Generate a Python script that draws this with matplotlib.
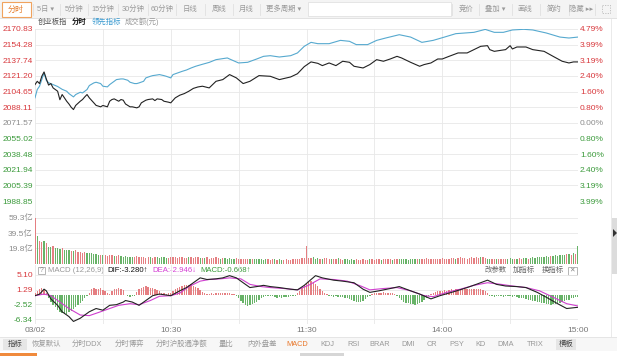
import numpy as np
import matplotlib
matplotlib.use("Agg")
import matplotlib.pyplot as plt
from matplotlib.patches import Rectangle, Polygon

plt.rcParams['font.family'] = ['Liberation Sans', 'Noto Sans CJK SC', 'DejaVu Sans']

# ---------------- data (minutes after 9:30, trading time) ----------------
prev_close = 2071.57
price_ticks = [2170.83, 2154.28, 2137.74, 2121.20, 2104.65, 2088.11,
               2071.57, 2055.02, 2038.48, 2021.94, 2005.39, 1988.85]
pct_labels = ['4.79%', '3.99%', '3.19%', '2.40%', '1.60%', '0.80%',
              '0.00%', '0.80%', '1.60%', '2.40%', '3.19%', '3.99%']

# 创业板指 分时
idx_t = [0, 1, 2, 3, 4, 5, 6, 7, 8, 10, 11, 12, 13, 14, 15, 16, 17, 18, 20,
         21, 22, 23, 24, 26, 27, 29, 30, 32, 33, 34, 35, 37, 38, 39, 40, 42,
         43, 45, 46, 47, 49, 50, 52, 53, 54, 56, 57, 59, 60, 62, 64, 66, 68,
         70, 72, 74, 77, 80, 83, 86, 89, 92, 95, 99, 104, 108, 113, 116, 119,
         122, 125, 127, 130, 133, 136, 139, 141, 145, 148, 151, 154, 157, 160,
         162, 166, 170, 172, 175, 178, 180, 183, 187, 191, 194, 197, 200, 201,
         203, 206, 208, 210, 211, 213, 217, 220, 225, 229, 233, 236, 238, 240]
idx_p = [2112.0, 2115.5, 2113.1, 2120.8, 2125.4, 2118.0, 2111.5, 2113.1,
         2108.5, 2105.0, 2096.0, 2101.5, 2098.0, 2094.4, 2091.5, 2088.0,
         2085.6, 2090.0, 2094.4, 2096.2, 2099.0, 2101.5, 2098.0, 2092.7,
         2090.0, 2088.5, 2089.9, 2088.5, 2094.4, 2096.2, 2096.9, 2094.4,
         2096.2, 2095.5, 2091.5, 2088.5, 2088.5, 2087.4, 2088.5, 2092.7,
         2095.5, 2096.2, 2096.9, 2095.1, 2096.9, 2096.2, 2094.4, 2093.4,
         2092.7, 2098.0, 2100.8, 2102.5, 2105.0, 2108.0, 2109.5, 2110.3,
         2108.5, 2115.5, 2117.3, 2122.6, 2119.1, 2113.1, 2115.5, 2121.5,
         2120.8, 2117.3, 2120.1, 2123.5, 2131.0, 2136.0, 2134.5, 2132.1,
         2134.9, 2132.1, 2136.7, 2135.6, 2131.4, 2129.6, 2133.2, 2138.4,
         2136.7, 2139.1, 2141.9, 2140.2, 2135.6, 2131.4, 2133.2, 2134.9,
         2139.1, 2139.1, 2141.9, 2145.5, 2145.5, 2149.0, 2152.5, 2153.2,
         2149.0, 2147.2, 2148.3, 2149.0, 2153.2, 2149.7, 2151.8, 2151.8,
         2149.0, 2147.2, 2141.9, 2136.7, 2134.9, 2136.0, 2136.0]

# 领先指标
lead_t = [0, 1, 2, 3, 4, 5, 6, 8, 10, 12, 14, 15, 17, 18, 20, 21, 23, 24, 26,
          27, 29, 30, 32, 33, 35, 36, 38, 39, 41, 42, 44, 45, 46, 48, 49, 51,
          52, 54, 55, 57, 58, 60, 61, 63, 65, 67, 69, 71, 74, 77, 80, 85, 86,
          90, 94, 98, 101, 104, 108, 113, 116, 119, 122, 125, 130, 135, 139,
          142, 147, 151, 155, 161, 166, 171, 176, 181, 186, 194, 199, 203, 207,
          211, 216, 220, 226, 232, 236, 240]
lead_p = [2098.0, 2106.8, 2110.3, 2117.3, 2124.3, 2116.5, 2114.0, 2112.0,
          2110.0, 2107.0, 2105.0, 2102.5, 2099.0, 2101.5, 2103.9, 2103.2,
          2106.8, 2111.0, 2113.8, 2114.5, 2113.1, 2110.3, 2109.6, 2112.0,
          2115.5, 2117.3, 2118.0, 2118.0, 2116.6, 2114.5, 2113.1, 2113.1,
          2113.8, 2115.5, 2119.1, 2120.8, 2121.5, 2122.2, 2122.6, 2121.5,
          2120.8, 2119.1, 2122.6, 2124.3, 2126.0, 2127.5, 2129.6, 2131.4,
          2133.5, 2135.5, 2138.4, 2140.2, 2139.1, 2134.9, 2135.6, 2139.1,
          2141.9, 2142.6, 2141.2, 2142.6, 2145.5, 2152.5, 2156.7, 2155.3,
          2155.3, 2158.8, 2157.8, 2154.3, 2154.3, 2158.8, 2161.3, 2164.8,
          2162.3, 2156.7, 2158.8, 2162.3, 2165.9, 2167.3, 2170.4, 2167.3,
          2167.3, 2169.8, 2170.5, 2169.8, 2166.6, 2162.3, 2161.3, 2162.3]

# 成交额 (亿元) per minute, r = up, g = down
volume = [59.0, 36.0, 29.5, 28.0, 29.0, 27.0, 22.0, 21.5, 22.5, 20.5,
          21.0, 19.5, 20.0, 18.0, 17.5, 18.5, 17.0, 16.5, 17.5, 15.5,
          15.0, 14.5, 15.5, 14.0, 13.5, 14.5, 13.0, 12.5, 11.5, 12.0,
          11.0, 11.5, 10.5, 11.0, 12.0, 10.5, 10.0, 11.0, 10.5, 9.5,
          10.0, 9.0, 9.5, 8.5, 9.0, 10.0, 8.5, 9.0, 9.5, 8.0,
          8.5, 9.0, 8.0, 9.5, 8.5, 8.0, 9.0, 8.5, 7.5, 8.0,
          9.0, 8.5, 9.5, 8.0, 8.5, 9.0, 8.0, 7.5, 8.5, 9.0,
          8.0, 9.5, 8.5, 8.0, 7.5, 8.0, 8.5, 7.0, 8.0, 7.5,
          8.5, 8.0, 7.0, 7.5, 8.0, 7.0, 7.5, 6.5, 7.0, 7.5,
          6.5, 7.0, 6.0, 6.5, 7.0, 6.0, 6.5, 7.0, 6.0, 6.5,
          6.0, 5.5, 6.5, 6.0, 5.5, 6.0, 6.5, 5.5, 6.0, 5.0,
          5.5, 6.0, 5.0, 5.5, 6.5, 6.0, 7.0, 6.5, 7.5, 8.0,
          23.5,
          8.0, 7.5, 8.5, 7.0, 7.5, 6.5, 7.0, 8.0, 7.5,
          6.5, 7.0, 6.0, 6.5, 7.5, 6.0, 5.5, 6.5, 6.0, 5.5,
          6.0, 5.5, 6.5, 5.0, 5.5, 6.0, 5.0, 5.5, 6.5, 6.0,
          5.5, 6.0, 6.5, 5.5, 6.0, 7.0, 6.0, 6.5, 5.5, 6.0,
          6.5, 6.0, 7.0, 6.5, 6.0, 5.5, 6.5, 7.0, 6.0, 6.5,
          7.0, 6.5, 6.0, 7.5, 6.5, 7.0, 6.0, 6.5, 7.0, 6.5,
          7.5, 7.0, 6.5, 7.0, 7.5, 8.0, 7.0, 7.5, 8.5, 7.5,
          8.0, 7.0, 7.5, 8.5, 8.0, 9.0, 8.0, 8.5, 9.5, 8.0,
          7.0, 6.5, 7.0, 6.0, 6.5, 7.0, 6.5, 6.0, 7.0, 6.5,
          7.5, 7.0, 6.5, 7.0, 7.5, 7.0, 8.0, 7.5, 7.0, 8.0,
          8.5, 8.0, 9.0, 8.5, 9.5, 9.0, 10.0, 9.5, 10.5, 10.0,
          11.0, 10.5, 11.5, 12.0, 11.0, 12.5, 13.0, 12.0, 13.5, 12.5,
          23.0]
vol_dir = ("rgrrgrggrg" "ggrgggrgrr" "rrrggggggr" "grrrrgrrgg" "ggggrrrrrr"
           "rgrrgggggr" "rrrrrrrrgr" "rrrgrgrrrr" "rrgrgggggr" "rrrrrgrggg"
           "gggrrrgrgg" "rrrrrrrrrr" "r" "rrgggrgrr"
           "rgrrgrrggg" "ggrrrrrrgr" "rrrgrrrrgr" "rggggggggr" "grrrrrrrrr"
           "rrrrrrgrrr" "rrrrrrrgrr" "ggrrgrrrrg" "ggrgrrggrg" "ggggggggrg"
           "gggggrgrgr" "g")
vol_ticks = [19.8, 39.5, 59.3]
vol_labels = ['19.8亿', '39.5亿', '59.3亿']

# MACD (12,26,9)
macd_hist = [0.4, 0.9, 1.3, 1.8, 1.2, 0.3, -0.9, -1.8, -2.6, -3.3,
             -3.9, -4.4, -4.8, -5.0, -4.9, -4.6, -4.2, -3.8, -3.3, -2.8,
             -2.2, -1.6, -1.0, -0.5, 0.4, 1.3, 1.6, 1.5, 1.4, 1.6,
             1.2, 0.9, 0.3, 0.2, 0.9, 1.3, 1.5, 1.6, 1.4, 1.1,
             -0.2, -0.5, -0.6, -0.5, -0.3, 0.6, 1.3, 1.7, 2.0, 2.1,
             1.9, 1.8, 1.6, 1.5, 1.2, 0.9, 0.5, 0.3, 0.2, 0.3,
             0.5, 1.0, 1.5, 1.8, 2.0, 2.2, 2.4, 2.5, 2.4, 2.6,
             2.3, 2.0, 1.6, 1.1, 0.6, 0.3, 0.2, 0.2, 0.3, 0.2,
             0.3, 0.4, 0.3, 0.4, 0.3, 0.4, 0.3, 0.2, 0.1, -0.3,
             -1.0, -1.7, -2.3, -2.7, -2.9, -2.8, -2.5, -2.2, -1.8, -1.4,
             -1.0, -0.7, -0.5, -0.4, -0.3, -0.5, -0.7, -0.8, -0.7, -0.8,
             -0.7, -0.6, -0.7, -0.5, -0.4, -0.3, 0.4, 1.0, 1.8, 2.4,
             2.9, 3.3, 3.4, 3.2, 2.8, 2.2, 1.5, 0.8, 0.4, 0.2,
             -0.3, -0.5, -0.6, -0.5, -0.6, -0.7, -0.6, -0.8, -0.9, -1.1,
             -1.3, -1.6, -1.9, -2.0, -1.9, -1.6, -1.2, -0.7, -0.3, 0.2,
             0.4, 0.5, 0.4, 0.5, 0.6, 0.5, 0.4, 0.5, 0.3, 0.1,
             -0.4, -0.9, -1.4, -1.8, -2.1, -2.2, -2.4, -2.5, -2.6, -2.4,
             -2.2, -1.8, -1.3, -0.8, -0.3, 0.2, 0.5, 0.7, 0.8, 0.9,
             1.0, 1.1, 1.0, 1.2, 1.3, 1.2, 1.3, 1.4, 1.3, 1.5,
             1.4, 1.3, 1.5, 1.4, 1.3, 1.4, 1.5, 1.3, 1.1, 0.8,
             0.3, -0.3, -0.5, -0.6, -0.5, -0.4, -0.5, -0.6, -0.5, -0.4,
             -0.5, -0.6, -0.5, -0.7, -0.8, -0.9, -1.0, -1.1, -1.3, -1.4,
             -1.6, -1.7, -1.9, -2.0, -2.2, -2.3, -2.4, -2.5, -2.6, -2.5,
             -2.4, -2.3, -2.1, -1.9, -1.7, -1.5, -1.3, -1.0, -0.8, -0.7,
             -0.67]
dif_t = [0, 2, 4, 5, 7, 10, 12, 15, 17, 20, 22, 24, 27, 30, 33, 36, 39, 40,
         43, 46, 49, 52, 55, 60, 64, 67, 70, 73, 76, 80, 83, 86, 89, 92, 95,
         98, 101, 104, 108, 113, 116, 119, 122, 124, 127, 132, 136, 141, 145,
         148, 152, 157, 161, 166, 170, 175, 179, 185, 191, 195, 200, 204, 208,
         213, 217, 222, 226, 231, 235, 240]
dif_v = [-0.3, 0.1, 1.37, 0.95, -1.12, -2.78, -4.43, -5.67, -6.92, -6.1,
         -5.27, -4.43, -3.6, -4.03, -2.78, -2.61, -1.94, -1.54, -1.94, -2.78,
         -1.54, -0.3, 0.12, -0.3, 0.95, 1.79, 3.03, 4.28, 3.86, 4.03, 4.28,
         4.85, 4.28, 3.03, 1.79, 2.04, 2.36, 2.04, 1.79, 1.37, 1.2, 2.36,
         3.86, 4.85, 4.28, 3.69, 3.44, 3.03, 1.37, 0.55, 0.95, 1.54, 2.04,
         0.95, 0.12, -1.12, -0.3, 0.7, 1.79, 2.61, 3.69, 2.61, 2.19, 2.04,
         1.79, 0.55, -0.7, -2.36, -3.6, -3.28]
dea_t = [0, 4, 7, 11, 15, 20, 24, 29, 33, 37, 42, 46, 51, 55, 60, 64, 68, 73,
         77, 82, 86, 91, 95, 100, 104, 110, 116, 121, 126, 132, 138, 144, 148,
         154, 160, 166, 172, 176, 182, 188, 194, 200, 206, 211, 217, 223, 229,
         235, 240]
dea_v = [-0.3, 0.12, -0.3, -1.94, -3.6, -5.27, -5.43, -4.43, -3.6, -2.78,
         -2.36, -2.61, -1.54, -0.45, -0.3, 0.37, 2.04, 3.44, 3.86, 4.03, 4.28,
         4.03, 2.61, 2.04, 1.79, 1.54, 1.2, 2.4, 4.03, 3.86, 3.44, 2.19, 1.2,
         1.54, 1.79, 0.95, -0.3, -0.55, 0.55, 1.37, 2.36, 3.03, 2.61, 2.19,
         1.79, 0.95, -0.7, -2.36, -2.95]
macd_ticks = [5.10, 1.29, -2.52, -6.34]
time_ticks = [0, 30, 60, 90, 120, 150, 180, 210, 240]
time_labels = ['03/02', '', '10:30', '', '11:30', '', '14:00', '', '15:00']

# ---------------- style ----------------
RED = '#d8383c'
GREEN = '#3b9a3b'
GRAY = '#8c8c8c'
GRID = '#e8e8e8'
BAR_RED = '#e57f82'
BAR_GREEN = '#68b368'
FS = 6      # numbers
CS = 5.3    # chinese ui text

W, H = 617, 356
fig = plt.figure(figsize=(W / 100, H / 100), dpi=100)
fig.patch.set_facecolor('white')


def px_axes(left, top, right, bottom):
    a = fig.add_axes([left / W, 1 - bottom / H, (right - left) / W, (bottom - top) / H])
    a.set_facecolor('none')
    for s in a.spines.values():
        s.set_visible(False)
    return a


# ---------------- chrome (toolbar, tabs) ----------------
ui = fig.add_axes([0, 0, 1, 1])
ui.set_xlim(0, W)
ui.set_ylim(H, 0)
ui.axis('off')


def txt(x, y, s, color='#8a8a8a', size=CS, ha='center', weight='normal'):
    ui.text(x, y, s, color=color, fontsize=size, ha=ha, va='center', fontweight=weight)


ui.add_patch(Rectangle((0, 0), W, 18, fc='#f4f4f4', ec='none'))
ui.plot([0, W], [18, 18], color='#dddddd', lw=0.6)
ui.add_patch(Rectangle((308, 2), 143, 14, fc='white', ec='#e2e2e2', lw=0.6))
ui.add_patch(Rectangle((1.5, 1.5), 29, 15, fc='white', ec='#f0a35e', lw=0.8))
txt(16, 9.5, '分时', color='#e57c2a', size=5.8)
for x in [33, 60, 88, 118, 148, 176, 205, 233, 260, 452, 479, 512, 540, 569, 595]:
    ui.plot([x, x], [4, 15], color='#e0e0e0', lw=0.6)
for x, s in [(46, '5日 ▾'), (74, '5分钟'), (103, '15分钟'), (133, '30分钟'),
             (162, '60分钟'), (190, '日线'), (219, '周线'), (246, '月线'),
             (284, '更多周期 ▾'), (466, '竞价'), (495, '叠加 ▾'), (525, '画线'),
             (554, '简约'), (581, '隐藏 ▸▸')]:
    txt(x, 9.5, s, color='#9a9a9a')
ui.add_patch(Rectangle((602, 5), 8, 8, fc='none', ec='#bbbbbb', lw=0.6, ls=(0, (1.5, 1.5))))

txt(38, 22, '创业板指', color='#555555', ha='left')
txt(72, 22, '分时', color='#111111', ha='left', weight='bold')
txt(92, 22, '领先指标', color='#3a9ad0', ha='left')
txt(125, 22, '成交额(元)', color='#9a9a9a', ha='left')

# MACD header row
ui.add_patch(Rectangle((37.5, 266.5), 7.5, 7.5, fc='white', ec='#aaaaaa', lw=0.6))
txt(41.3, 270.3, '?', color='#888888', size=4.8)
txt(48, 270.5, 'MACD (12,26,9)', color='#999999', ha='left', size=5.6)
txt(107, 270.5, 'DIF:-3.280↑', color='#111111', ha='left', size=5.6)
txt(152, 270.5, 'DEA:-2.946↓', color='#d43fd4', ha='left', size=5.6)
txt(200, 270.5, 'MACD:-0.668↑', color=GREEN, ha='left', size=5.6)
txt(496, 270.5, '改参数', color='#666666')
txt(524, 270.5, '加指标', color='#666666')
txt(553, 270.5, '换指标', color='#666666')
ui.add_patch(Rectangle((568, 266.5), 8.5, 8.5, fc='white', ec='#aaaaaa', lw=0.6))
txt(572.3, 270.8, '✕', color='#888888', size=4.8)

# bottom tab bar
ui.add_patch(Rectangle((0, 337), W, 14, fc='#f7f7f7', ec='none'))
ui.plot([0, W], [337, 337], color='#e2e2e2', lw=0.6)
ui.add_patch(Rectangle((3, 338.5), 24, 11, fc='#e6e6e6', ec='none'))
ui.add_patch(Rectangle((556, 338.5), 20, 11, fc='#e6e6e6', ec='none'))
for x, s in [(15, '指标'), (46, '恢复默认'), (87, '分时DDX'), (129, '分时博弈'),
             (182, '分时沪股通净额'), (226, '量比'), (262, '内外盘差'),
             (327, 'KDJ'), (353, 'RSI'), (380, 'BRAR'), (408, 'DMI'), (432, 'CR'),
             (457, 'PSY'), (481, 'KD'), (506, 'DMA'), (535, 'TRIX'), (566, '横板')]:
    txt(x, 344, s, color='#444444' if s in ('指标', '横板') else '#999999')
txt(297, 344, 'MACD', color='#e8772a')
ui.add_patch(Rectangle((0, 352.5), 37, 3.5, fc='#f08a3c', ec='none'))
ui.add_patch(Rectangle((300, 352.5), 44, 3.5, fc='#d6d6d6', ec='none'))

# right scroll strip
ui.plot([611, 611], [19, 337], color='#e6e6e6', lw=0.6)
ui.add_patch(Rectangle((612, 218), 5, 56, fc='#dcdcdc', ec='none'))
ui.add_patch(Polygon([[613, 229], [613, 237], [617, 233]], closed=True, fc='#333333', ec='none'))

# ---------------- price panel ----------------
ax = px_axes(35, 29, 578, 201)
ax.plot(lead_t, lead_p, color='#56a9cf', lw=0.8)
ax.plot(idx_t, idx_p, color='#222222', lw=0.8)
ax.set_xlim(0, 240)
ax.set_ylim(price_ticks[-1], price_ticks[0])
ax.set_xticks(time_ticks)
ax.set_xticklabels([])
ax.set_yticks(price_ticks)
ax.set_yticklabels(['%.2f' % v for v in price_ticks])
ax.tick_params(length=0, pad=1.5, labelsize=FS)
ax.grid(color=GRID, lw=0.6)
ax.set_axisbelow(True)
price_colors = [RED if v > prev_close + 0.01 else (GREEN if v < prev_close - 0.01 else GRAY)
                for v in price_ticks]
for lbl, c in zip(ax.get_yticklabels(), price_colors):
    lbl.set_color(c)

ax2 = ax.twinx()
ax2.set_ylim(ax.get_ylim())
ax2.set_yticks(price_ticks)
ax2.set_yticklabels(pct_labels)
ax2.tick_params(length=0, pad=1.5, labelsize=FS)
for s in ax2.spines.values():
    s.set_visible(False)
for lbl, c in zip(ax2.get_yticklabels(), price_colors):
    lbl.set_color(c)

# ---------------- volume panel ----------------
minutes = np.arange(len(volume))
vax = px_axes(35, 201, 578, 264)
vax.bar(minutes, volume, width=0.55,
        color=[BAR_RED if c == 'r' else BAR_GREEN for c in vol_dir])
vax.set_xlim(0, 240)
vax.set_ylim(0, 80.4)
vax.set_xticks(time_ticks)
vax.set_xticklabels([])
vax.set_yticks(vol_ticks)
vax.set_yticklabels(vol_labels)
vax.tick_params(length=0, pad=1.5, labelsize=FS, labelcolor=GRAY)
vax.grid(color=GRID, lw=0.6)
vax.set_axisbelow(True)

# ---------------- MACD panel ----------------
max_ = px_axes(35, 265, 578, 324)
max_.bar(minutes, macd_hist, width=0.6,
         color=[BAR_RED if v >= 0 else BAR_GREEN for v in macd_hist])
max_.plot(dea_t, dea_v, color='#cf3fcf', lw=0.8)
max_.plot(dif_t, dif_v, color='#222222', lw=0.8)
max_.set_xlim(0, 240)
max_.set_ylim(-7.58, 7.59)
max_.set_xticks(time_ticks)
max_.set_xticklabels(time_labels)
max_.set_yticks(macd_ticks)
max_.set_yticklabels(['%.2f' % v for v in macd_ticks])
max_.tick_params(length=0, pad=1.5, labelsize=FS)
max_.tick_params(axis='x', pad=2.5, labelcolor='#777777')
max_.grid(color=GRID, lw=0.6)
max_.set_axisbelow(True)
for lbl, v in zip(max_.get_yticklabels(), macd_ticks):
    lbl.set_color(RED if v > 0 else GREEN)

fig.savefig('out.png', dpi=100)
